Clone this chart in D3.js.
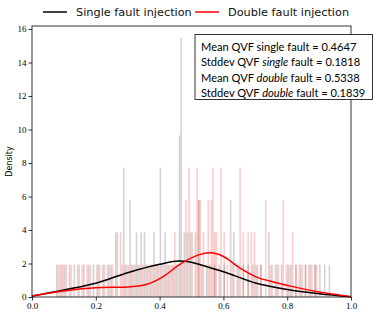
<!DOCTYPE html>
<html>
<head>
<meta charset="utf-8">
<script src="https://cdn.jsdelivr.net/npm/d3@7"></script>
<style>
  html, body { margin: 0; padding: 0; background: #fff; }
  svg { display: block; }
</style>
</head>
<body>
<svg id="chart"></svg>
<script>
// histogram bins: index of a 0.005-wide bin on [0, 1] and the number of samples in it
const binWidth = 0.005;
const densityPerSample = 1.93;

const singleBinIdx = [15, 18, 20, 23, 26, 29, 32, 35, 38, 41, 44, 47, 49,
  52, 53, 57, 58, 61, 62, 65, 66, 68, 70, 72, 74, 76, 78, 80, 83, 85, 88, 90,
  92, 93, 95, 97, 99, 102, 104, 106, 109, 111, 114, 117, 120, 124, 126, 129,
  132, 135, 138, 140, 143, 148, 150, 153, 156, 160, 162, 165, 168, 171, 174,
  177, 180, 183, 186];
const singleCounts = [1, 1, 1, 1, 1, 1, 1, 1, 1, 1, 1, 1, 1,
  2, 2, 4, 1, 3, 1, 2, 1, 2, 2, 1, 1, 2, 1, 4, 2, 1, 1, 1,
  5, 8, 2, 2, 2, 2, 3, 1, 1, 1, 1, 1, 1, 3, 2, 1,
  1, 1, 1, 1, 1, 2, 1, 1, 1, 1, 1, 1, 1, 1, 1,
  1, 1, 1, 1];

const doubleBinIdx = [16, 17, 19, 21, 24, 28, 31, 34, 36, 40, 42, 45, 48, 50,
  55, 56, 59, 60, 63, 64, 67, 69, 71, 73, 75, 77, 79, 81, 82, 84, 86, 87, 89,
  91, 94, 96, 98, 100, 103, 104, 105, 107, 110, 112, 113, 114, 115, 118, 120,
  122, 125, 128, 130, 132, 135, 137, 139, 141, 143, 146, 149, 152, 154, 157,
  159, 161, 163, 165, 167, 169, 171, 173, 175, 177, 178];
const doubleCounts = [1, 1, 1, 1, 1, 1, 1, 1, 1, 1, 1, 1, 1, 1,
  2, 1, 1, 1, 1, 1, 1, 1, 1, 1, 1, 1, 1, 1, 1, 1, 1, 1, 2,
  1, 1, 3, 4, 2, 4, 3, 3, 2, 3, 3, 4, 2, 2, 4, 2,
  1, 1, 1, 4, 2, 2, 2, 2, 1, 1, 3, 1, 1, 1, 3,
  1, 1, 2, 1, 1, 1, 1, 1, 1, 1, 1];

// KDE curves
const singleKdeX = [0, 0.1, 0.2, 0.3, 0.4, 0.46, 0.5, 0.53, 0.6, 0.7, 0.8, 0.9, 1.0];
const singleKdeY = [0.06, 0.42, 0.82, 1.45, 1.95, 2.15, 2.08, 1.91, 1.51, 0.84, 0.45, 0.2, 0.02];
const doubleKdeX = [0, 0.1, 0.2, 0.3, 0.36, 0.41, 0.46, 0.52, 0.56, 0.6, 0.65, 0.7, 0.76, 0.81, 0.9, 1.0];
const doubleKdeY = [0.06, 0.36, 0.55, 0.6, 0.76, 1.2, 1.9, 2.5, 2.64, 2.42, 1.75, 1.22, 0.88, 0.65, 0.3, 0.02];

const xTicks = [0, 0.2, 0.4, 0.6, 0.8, 1.0];
const yTicks = [0, 2, 4, 6, 8, 10, 12, 14, 16];

const legendLabels = ['Single fault injection', 'Double fault injection'];
const legendColors = ['#000000', '#ff0000'];

const width = 374, height = 318;
const plotLeft = 32, plotRight = 351, plotTop = 26, plotBottom = 297;

const svg = d3.select('#chart').attr('width', width).attr('height', height);

const x = d3.scaleLinear().domain([0, 1]).range([plotLeft, plotRight]);
const y = d3.scaleLinear().domain([0, 16.18]).range([plotBottom, plotTop]);

const serif = '"Liberation Serif", "DejaVu Serif", serif';

// Histograms
function drawBars(idx, counts, color, opacity) {
  svg.append('g').selectAll('rect')
    .data(idx.map((b, i) => ({ x0: b * binWidth, d: counts[i] * densityPerSample })))
    .join('rect')
    .attr('x', d => x(d.x0))
    .attr('width', x(binWidth) - x(0))
    .attr('y', d => y(d.d))
    .attr('height', d => y(0) - y(d.d))
    .attr('fill', color)
    .attr('fill-opacity', opacity);
}
drawBars(singleBinIdx, singleCounts, '#808080', 0.35);
drawBars(doubleBinIdx, doubleCounts, '#ff0000', 0.2);

// KDE lines
const line = d3.line().x(d => x(d[0])).y(d => y(d[1])).curve(d3.curveMonotoneX);
svg.append('path')
  .attr('d', line(singleKdeX.map((v, i) => [v, singleKdeY[i]])))
  .attr('fill', 'none').attr('stroke', '#000').attr('stroke-width', 1.5);
svg.append('path')
  .attr('d', line(doubleKdeX.map((v, i) => [v, doubleKdeY[i]])))
  .attr('fill', 'none').attr('stroke', '#ff0000').attr('stroke-width', 1.5);

// Axes
const xAxis = svg.append('g')
  .attr('transform', `translate(0,${plotBottom})`)
  .call(d3.axisBottom(x).tickValues(xTicks).tickFormat(d3.format('.1f')).tickSize(3.5).tickPadding(2));
const yAxis = svg.append('g')
  .attr('transform', `translate(${plotLeft},0)`)
  .call(d3.axisLeft(y).tickValues(yTicks).tickFormat(d3.format('d')).tickSize(3.5).tickPadding(2));
[xAxis, yAxis].forEach(a => {
  a.select('.domain').remove();
  a.selectAll('line').attr('stroke', '#000').attr('stroke-width', 0.8);
  a.selectAll('text').attr('font-family', serif).attr('font-size', 9).attr('fill', '#000');
});

// Frame
svg.append('rect')
  .attr('x', plotLeft).attr('y', plotTop)
  .attr('width', plotRight - plotLeft).attr('height', plotBottom - plotTop)
  .attr('fill', 'none').attr('stroke', '#000').attr('stroke-width', 0.8);

// Y label
svg.append('text')
  .attr('transform', `translate(12,${(plotTop + plotBottom) / 2}) rotate(-90)`)
  .attr('text-anchor', 'middle')
  .attr('font-family', '"DejaVu Sans", sans-serif')
  .attr('font-size', 8)
  .text('Density');

// Legend
const legendX = [43, 195];
legendLabels.forEach((lab, i) => {
  svg.append('line')
    .attr('x1', legendX[i]).attr('x2', legendX[i] + 24)
    .attr('y1', 12).attr('y2', 12)
    .attr('stroke', legendColors[i]).attr('stroke-width', 1.5);
  svg.append('text')
    .attr('x', legendX[i] + 33).attr('y', 16)
    .attr('font-family', '"DejaVu Sans", sans-serif')
    .attr('font-size', 11.3)
    .attr('fill', '#111')
    .text(lab);
});

// Stats box
svg.append('rect')
  .attr('x', 195).attr('y', 34.5)
  .attr('width', 177.5).attr('height', 65)
  .attr('fill', '#fff').attr('stroke', '#000').attr('stroke-width', 0.8);
const stats = [
  ['Mean QVF single fault = 0.4647', null],
  ['Stddev QVF ', 'single', ' fault = 0.1818'],
  ['Mean QVF ', 'double', ' fault = 0.5338'],
  ['Stddev QVF ', 'double', ' fault = 0.1839']
];
stats.forEach((s, i) => {
  const t = svg.append('text')
    .attr('x', 201).attr('y', 51 + i * 15.3)
    .attr('font-family', 'Lato, "Open Sans", sans-serif')
    .attr('font-size', 11.1);
  t.append('tspan').text(s[0]);
  if (s[1]) {
    t.append('tspan').attr('font-style', 'italic').text(s[1]);
    t.append('tspan').text(s[2]);
  }
});
</script>
</body>
</html>
